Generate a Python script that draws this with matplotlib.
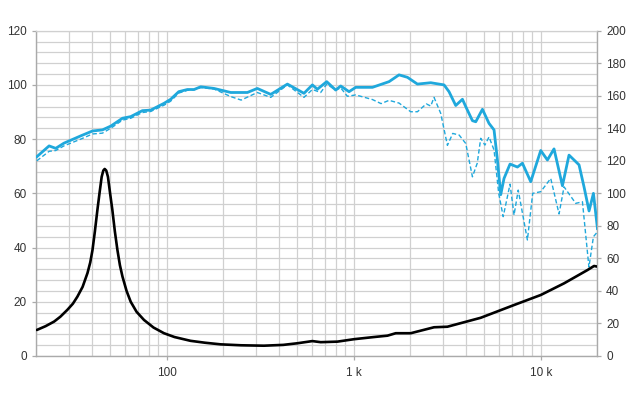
import matplotlib
matplotlib.use("Agg")
import matplotlib.pyplot as plt
from matplotlib.ticker import FixedLocator, MultipleLocator, NullFormatter

# --- Data ---
spl_freq = [20.2, 23.5, 25.5, 28.2, 34.7, 40.1, 45.3, 50.2, 58.0, 64.2, 74.1, 82.1, 96.7,
            105, 116, 129, 140, 152, 179, 220, 270, 305, 360, 442, 542, 601, 639, 717,
            801, 852, 944, 1025, 1259, 1545, 1747, 1937, 2191, 2581, 3041, 3233, 3512,
            3814, 3972, 4313, 4493, 4878, 5290, 5628, 5867, 6110, 6364, 6853, 7506,
            7983, 8842, 10000, 10859, 11779, 13062, 14167, 15390, 16028, 17040, 18131,
            19135, 20109]
spl_on = [73.5, 77.5, 76.6, 78.5, 81.2, 83.0, 83.4, 84.8, 87.7, 88.3, 90.5, 90.7, 93.2,
          94.7, 97.5, 98.3, 98.3, 99.3, 98.7, 97.2, 97.2, 98.7, 96.5, 100.3, 96.9, 100.0,
          98.4, 101.2, 98.1, 99.6, 97.5, 99.1, 99.1, 101.2, 103.7, 102.8, 100.3, 100.8,
          100.0, 97.5, 92.4, 94.7, 92.0, 86.8, 86.4, 91.0, 85.8, 83.4, 72.3, 59.5, 65.5,
          70.8, 69.7, 71.1, 64.3, 75.8, 72.3, 76.4, 62.8, 74.1, 71.7, 70.5, 62.4, 53.5,
          60.0, 47.0]

off_freq = [20.2, 23.5, 25.5, 28.2, 34.7, 40.1, 45.3, 50.2, 58.0, 64.2, 74.1, 82.1, 96.7,
            105, 116, 129, 140, 152, 179, 220, 250, 305, 360, 442, 542, 601, 666, 717,
            801, 852, 925, 1025, 1259, 1400, 1545, 1747, 2017, 2191, 2443, 2581, 2688,
            2919, 3170, 3385, 3662, 3972, 4313, 4576, 4777, 5030, 5290, 5628, 5960,
            6300, 6853, 7200, 7580, 8487, 9059, 10000, 11310, 12530, 13325, 15390,
            16710, 18100, 19135, 20109]
spl_off = [72.0, 75.5, 75.8, 77.5, 80.0, 81.9, 82.2, 84.0, 87.0, 87.7, 89.8, 90.2, 92.5,
           94.0, 97.0, 98.0, 98.2, 99.0, 98.5, 95.7, 94.4, 97.2, 95.4, 100.0, 95.4, 98.3,
           97.2, 100.3, 98.1, 98.9, 95.8, 96.3, 94.6, 93.1, 94.3, 93.3, 90.1, 90.1, 93.0,
           92.2, 95.4, 89.5, 77.7, 82.1, 81.5, 78.4, 66.1, 71.1, 80.3, 77.8, 80.8, 76.0,
           60.0, 51.4, 63.4, 52.0, 61.2, 42.8, 60.0, 60.6, 65.5, 52.4, 62.4, 56.3, 56.9,
           32.8, 44.0, 45.8]

imp_freq = [20.2, 22.5, 25.0, 27.0, 29.4, 31.5, 33.3, 35.5, 37.7, 39.0, 40.1, 41.3, 42.6,
            43.8, 44.9, 45.8, 46.6, 47.5, 48.5, 49.8, 51.2, 52.8, 54.5, 56.2, 58.0, 61.0,
            64.2, 69.0, 75.6, 85.0, 96.7, 110, 134, 160, 194, 250, 331, 420, 500, 601,
            666, 818, 1004, 1284, 1515, 1677, 2017, 2688, 3170, 4777, 7197, 10000, 13325,
            17774, 19275, 20000]
imp_val = [9.6, 11.0, 12.7, 14.5, 17.0, 19.3, 21.9, 25.5, 30.6, 34.5, 39.1, 46.0, 53.9,
           60.5, 66.1, 68.4, 69.0, 68.4, 66.1, 60.0, 53.9, 46.0, 39.1, 33.5, 29.3, 24.0,
           20.0, 16.3, 13.3, 10.5, 8.4, 7.0, 5.6, 4.9, 4.3, 3.95, 3.8, 4.1, 4.7, 5.5,
           5.1, 5.3, 6.2, 7.0, 7.5, 8.4, 8.4, 10.6, 10.8, 14.1, 18.8, 22.5, 26.8, 31.7,
           33.2, 33.0]

x_tick_vals = [100, 1000, 10000]
x_tick_labels = ["100", "1 k", "10 k"]
left_ticks = [0, 20, 40, 60, 80, 100, 120]
right_ticks = [0, 20, 40, 60, 80, 100, 120, 140, 160, 180, 200]

# --- Style ---
plt.rcParams['font.family'] = ['Liberation Sans', 'DejaVu Sans']
BLUE = '#1fa8dc'
GRID = '#d0d0d0'
AXC = '#aaaaaa'
TXT = '#333333'

fig = plt.figure(figsize=(6.4, 4.0), dpi=100)
ax = fig.add_axes([0.05625, 0.11, 0.8766, 0.8133])

ax.set_xscale('log')
ax.set_xlim(20, 20000)
ax.set_ylim(0, 120)

ax.plot(imp_freq, imp_val, color='black', lw=1.9, solid_capstyle='round',
        solid_joinstyle='round', zorder=4)
ax.plot(off_freq, spl_off, color=BLUE, lw=1.0, ls=(0, (3.2, 1.8)), zorder=3)
ax.plot(spl_freq, spl_on, color=BLUE, lw=2.0, zorder=5, solid_joinstyle='round')

# x ticks
ax.xaxis.set_major_locator(FixedLocator(x_tick_vals))
ax.set_xticklabels(x_tick_labels)
minor_x = [m * d for d in (10, 100, 1000, 10000) for m in range(2, 10) if 20 <= m * d <= 20000]
ax.xaxis.set_minor_locator(FixedLocator(minor_x))
ax.xaxis.set_minor_formatter(NullFormatter())

# y ticks
ax.yaxis.set_major_locator(FixedLocator(left_ticks))
ax.yaxis.set_minor_locator(MultipleLocator(4))

ax.grid(True, which='both', color=GRID, lw=0.9, zorder=0)
ax.set_axisbelow(True)

for s in ['left', 'bottom', 'right']:
    ax.spines[s].set_color(AXC)
    ax.spines[s].set_linewidth(1.0)
ax.spines['top'].set_color(GRID)
ax.spines['top'].set_linewidth(0.9)

ax.tick_params(axis='both', which='major', labelsize=8.5, colors=AXC, labelcolor=TXT,
               length=3, width=0.9)
ax.tick_params(axis='both', which='minor', length=0)
ax.tick_params(axis='x', which='major', pad=5)

ax2 = ax.twinx()
ax2.set_ylim(0, 200)
ax2.yaxis.set_major_locator(FixedLocator(right_ticks))
ax2.tick_params(axis='y', labelsize=8.5, colors=AXC, labelcolor=TXT, length=3, width=0.9)
for s in ax2.spines.values():
    s.set_visible(False)

fig.savefig('out.png', dpi=100)
